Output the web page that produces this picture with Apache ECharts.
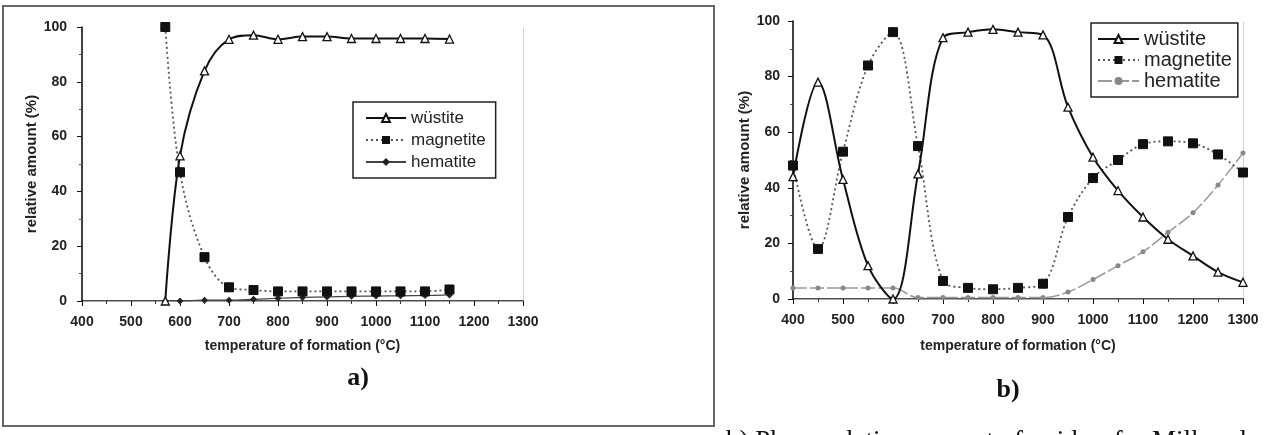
<!DOCTYPE html>
<html>
<head>
<meta charset="utf-8">
<script src="https://cdn.jsdelivr.net/npm/echarts@6/dist/echarts.min.js"></script>
<style>
html,body{margin:0;padding:0;background:#fff;}
#chart{width:1287px;height:435px;}
</style>
</head>
<body>
<div id="chart"></div>
<script>
// ---- data ----
const seriesNames = ['wüstite', 'magnetite', 'hematite'];
const yTicks = [0, 20, 40, 60, 80, 100];
const xTicks = [400, 500, 600, 700, 800, 900, 1000, 1100, 1200, 1300];

// panel a)
const tempsA     = [570, 600, 650, 700, 750, 800, 850, 900, 950, 1000, 1050, 1100, 1150];
const wustiteA   = [0, 53, 84, 95.5, 97, 95.5, 96.5, 96.5, 95.8, 95.8, 95.8, 95.8, 95.6];
const magnetiteA = [100, 47, 16, 5, 4, 3.5, 3.5, 3.5, 3.5, 3.5, 3.5, 3.5, 4.2];
const hematiteA  = [0, 0, 0.3, 0.3, 0.6, 1, 1.3, 1.5, 1.7, 1.8, 1.9, 2, 2.2];

// panel b)
const tempsB     = [400, 450, 500, 550, 600, 650, 700, 750, 800, 850, 900, 950, 1000, 1050, 1100, 1150, 1200, 1250, 1300];
const wustiteB   = [44, 78, 43, 12, 0, 45, 94, 96, 97, 96, 95, 69, 51, 39, 29.5, 21.5, 15.5, 9.7, 6];
const magnetiteB = [48, 18, 53, 84, 96, 55, 6.5, 4, 3.5, 4, 5.5, 29.5, 43.5, 50, 55.7, 56.7, 56, 52, 45.5];
const hematiteB  = [4, 4, 4, 4, 4, 0.5, 0.5, 0.5, 0.5, 0.5, 0.5, 2.5, 7, 12, 17, 24, 31, 41, 52.5];

const pairs = (xs, ys) => xs.map((x, i) => [x, ys[i]]);

const FONT = 'Liberation Sans';
const axisLabelStyle = { fontFamily: FONT, fontWeight: 'bold', fontSize: 14, color: '#222' };
const nameStyle = { fontFamily: FONT, fontWeight: 'bold', fontSize: 14, color: '#222' };

function bottomX(gridIndex, gap) {
  return {
    gridIndex, type: 'value', min: 400, max: 1300, interval: 100, position: 'bottom',
    axisLine: { lineStyle: { color: '#111', width: 1.6 } },
    axisTick: { show: true, length: 5, lineStyle: { color: '#111' } },
    minorTick: { show: true, splitNumber: 2, length: 3, lineStyle: { color: '#333' } },
    axisLabel: Object.assign({ margin: 14, formatter: v => String(v) }, axisLabelStyle),
    splitLine: { show: false },
    name: 'temperature of formation (°C)', nameLocation: 'middle', nameGap: gap,
    nameTextStyle: nameStyle
  };
}
function topX(gridIndex) {
  return {
    gridIndex, type: 'value', min: 400, max: 1300, position: 'top',
    axisLine: { show: true, lineStyle: { color: '#aaa', width: 1 } },
    axisTick: { show: false }, axisLabel: { show: false }, splitLine: { show: false }
  };
}
function leftY(gridIndex, gap, margin) {
  return {
    gridIndex, type: 'value', min: 0, max: 100, interval: 20, position: 'left',
    axisLine: { show: true, lineStyle: { color: '#111', width: 1.6 } },
    axisTick: { show: true, length: 5, lineStyle: { color: '#111' } },
    minorTick: { show: true, splitNumber: 2, length: 3, lineStyle: { color: '#555' } },
    axisLabel: Object.assign({ margin, formatter: v => String(v) }, axisLabelStyle),
    splitLine: { show: false },
    name: 'relative amount (%)', nameLocation: 'middle', nameGap: gap, nameRotate: 90,
    nameTextStyle: Object.assign({}, nameStyle, { fontSize: 15 })
  };
}
function rightY(gridIndex) {
  return {
    gridIndex, type: 'value', min: 0, max: 100, position: 'right',
    axisLine: { show: true, lineStyle: { color: '#c8c8c8', width: 1, type: 'dotted' } },
    axisTick: { show: false }, axisLabel: { show: false }, splitLine: { show: false }
  };
}

function wustite(name, x, y, data) {
  return { name, type: 'line', xAxisIndex: x, yAxisIndex: y, data, smooth: 0.35,
    symbol: 'triangle', symbolSize: 8, showAllSymbol: true,
    itemStyle: { color: '#fff', borderColor: '#111', borderWidth: 1.3 },
    lineStyle: { color: '#111', width: 2 }, z: 4 };
}
function magnetite(name, x, y, data) {
  return { name, type: 'line', xAxisIndex: x, yAxisIndex: y, data, smooth: 0.35,
    symbol: 'rect', symbolSize: 9,
    itemStyle: { color: '#111', borderColor: '#111' },
    lineStyle: { color: '#555', width: 1.8, type: [2, 3] }, z: 3 };
}

const option = {
  backgroundColor: '#fff',
  animation: false,
  grid: [
    { left: 82, top: 27, width: 441, height: 274 },
    { left: 793, top: 21, width: 450, height: 278 }
  ],
  xAxis: [bottomX(0, 38), topX(0), bottomX(1, 40), topX(1)],
  yAxis: [leftY(0, 40, 15), rightY(0), leftY(1, 38, 13), rightY(1)],
  legend: [
    {
      left: 353, top: 102, orient: 'vertical',
      borderColor: '#222', borderWidth: 1.5, padding: [7, 10, 7, 12],
      itemWidth: 40, itemHeight: 10, itemGap: 4,
      textStyle: { fontFamily: FONT, fontSize: 17, color: '#222', lineHeight: 18 },
      formatter: n => n.split('|')[0],
      data: seriesNames.map(n => n + '|a')
    },
    {
      left: 1091, top: 23, orient: 'vertical',
      borderColor: '#222', borderWidth: 1.5, padding: [6, 6, 6, 6],
      itemWidth: 41, itemHeight: 10, itemGap: 1,
      textStyle: { fontFamily: FONT, fontSize: 20, color: '#222', lineHeight: 18 },
      formatter: n => n.split('|')[0],
      data: seriesNames.map(n => n + '|b')
    }
  ],
  series: [
    wustite(seriesNames[0] + '|a', 0, 0, pairs(tempsA, wustiteA)),
    magnetite(seriesNames[1] + '|a', 0, 0, pairs(tempsA, magnetiteA)),
    { name: seriesNames[2] + '|a', type: 'line', xAxisIndex: 0, yAxisIndex: 0,
      data: pairs(tempsA, hematiteA), smooth: 0.35,
      symbol: 'diamond', symbolSize: 7,
      itemStyle: { color: '#222' }, lineStyle: { color: '#444', width: 1.2 }, z: 2 },
    wustite(seriesNames[0] + '|b', 2, 2, pairs(tempsB, wustiteB)),
    magnetite(seriesNames[1] + '|b', 2, 2, pairs(tempsB, magnetiteB)),
    { name: seriesNames[2] + '|b', type: 'line', xAxisIndex: 2, yAxisIndex: 2,
      data: pairs(tempsB, hematiteB), smooth: 0.35,
      symbol: 'circle', symbolSize: 5,
      itemStyle: { color: '#888' }, lineStyle: { color: '#999', width: 1.5, type: [14, 3] }, z: 2 }
  ],
  graphic: [
    { type: 'rect', shape: { x: 3, y: 6, width: 711, height: 420 },
      style: { fill: null, stroke: '#666', lineWidth: 2 }, z: 0, silent: true },
    { type: 'text', x: 358, y: 378,
      style: { text: 'a)', fontFamily: 'Liberation Serif', fontWeight: 'bold', fontSize: 26,
        fill: '#111', textAlign: 'center', textVerticalAlign: 'middle' } },
    { type: 'text', x: 1008, y: 390,
      style: { text: 'b)', fontFamily: 'Liberation Serif', fontWeight: 'bold', fontSize: 26,
        fill: '#111', textAlign: 'center', textVerticalAlign: 'middle' } },
    { type: 'text', x: 726, y: 428,
      style: { text: 'b) Phase relative amount of oxides, for Mill scale', fontFamily: 'Liberation Serif',
        fontSize: 27, fill: '#111', textAlign: 'left', textVerticalAlign: 'top' } }
  ]
};

const chart = echarts.init(document.getElementById('chart'), null, { renderer: 'canvas' });
chart.setOption(option);
</script>
</body>
</html>
